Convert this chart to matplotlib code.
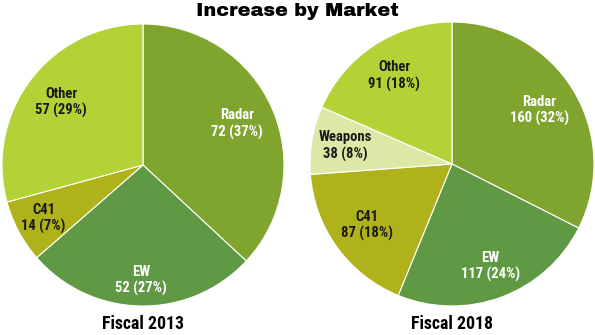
import matplotlib
matplotlib.use('Agg')
import matplotlib.pyplot as plt
import numpy as np

# data
labels_2013 = ['Radar', 'EW', 'C41', 'Other']
values_2013 = [72, 52, 14, 57]
pcts_2013 = [37, 27, 7, 29]

labels_2018 = ['Radar', 'EW', 'C41', 'Weapons', 'Other']
values_2018 = [160, 117, 87, 38, 91]
pcts_2018 = [32, 24, 18, 8, 18]

colors = {'Radar': '#80a52e', 'EW': '#5f9944', 'C41': '#b0b21c',
          'Weapons': '#dde8a6', 'Other': '#b3d236'}
white_text = ['Radar', 'EW']

narrow = ['Roboto Condensed', 'DejaVu Sans']
heavy = ['Archivo Black', 'DejaVu Sans']


def draw_pie(ax, labels, values, pcts, title, dists):
    wedges, _ = ax.pie(values, colors=[colors[l] for l in labels],
                       startangle=90, counterclock=False,
                       wedgeprops=dict(edgecolor='white', linewidth=0.8))
    for w, lab, v, p, d in zip(wedges, labels, values, pcts, dists):
        mid = np.deg2rad((w.theta1 + w.theta2) / 2)
        ax.text(d * np.cos(mid), d * np.sin(mid), '%s\n%d (%d%%)' % (lab, v, p),
                ha='center', va='center', fontsize=10.5, fontweight='bold',
                family=narrow, linespacing=1.2,
                color='white' if lab in white_text else '#1a1a1a')
    ax.set_xlim(-1, 1)
    ax.set_ylim(-1, 1)
    ax.text(0, -1.125, title, ha='center', va='center', fontsize=12.8,
            fontweight='bold', family=narrow)


fig = plt.figure(figsize=(5.95, 3.35), dpi=100)
W, H = 595.0, 335.0

# left pie: centre (143,165), radius 141 px
r1 = 141
ax1 = fig.add_axes([(143 - r1) / W, (H - 165 - r1) / H, 2 * r1 / W, 2 * r1 / H])
draw_pie(ax1, labels_2013, values_2013, pcts_2013, 'Fiscal 2013',
         [0.73, 0.82, 0.8, 0.73])

# right pie: centre (452,164), radius 142 px
r2 = 142
ax2 = fig.add_axes([(452 - r2) / W, (H - 164 - r2) / H, 2 * r2 / W, 2 * r2 / H])
draw_pie(ax2, labels_2018, values_2018, pcts_2018, 'Fiscal 2018',
         [0.72, 0.77, 0.74, 0.76, 0.74])

fig.text(297 / W, 1 - 11 / H, 'Increase by Market', ha='center', va='center',
         fontsize=13.8, family=heavy)

fig.savefig('out.png', dpi=100)
